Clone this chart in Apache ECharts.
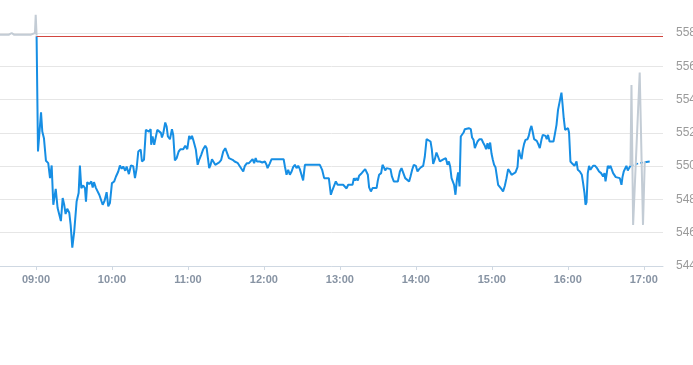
<!DOCTYPE html>
<html>
<head>
<meta charset="utf-8">
<script src="https://cdn.jsdelivr.net/npm/echarts@6/dist/echarts.min.js"></script>
<style>html,body{margin:0;padding:0;background:#fff}#c{width:693px;height:365px}</style>
</head>
<body>
<div id="c"></div>
<script>
// x values are minutes since midnight
var xTickMinutes = [540, 600, 660, 720, 780, 840, 900, 960, 1020];
var yTicks = [544, 546, 548, 550, 552, 554, 556, 558];
var prevClose = 557.82;

var preTimes  = [511.6, 518.7, 520.8, 522.6, 536.1, 537.6, 539.2, 539.8, 540.5];
var preValues = [557.9, 557.9, 558.0, 557.9, 557.9, 557.95, 558.0, 559.1, 557.85];

var mainTimes = [540.5,541.6,544.0,545.0,546.3,547.9,549.7,551.1,552.4,553.7,555.6,557.1,558.4,559.7,561.1,562.3,563.4,564.7,566.3,567.4,568.7,570.2,572.1,573.7,574.7,575.8,577.3,578.7,579.5,580.5,582.1,583.7,584.8,585.8,587.4,588.7,590.0,591.3,592.7,594.2,595.8,597.1,598.4,600.0,601.8,603.2,605.0,606.3,607.7,608.9,610.5,611.6,613.4,615.0,616.8,618.2,619.5,620.8,621.6,622.7,623.7,625.3,626.8,627.9,629.2,630.6,631.0,632.1,633.4,634.7,635.8,637.3,638.7,639.5,640.5,642.1,643.2,644.2,645.8,647.4,648.4,649.7,651.1,652.7,654.2,656.3,657.9,659.5,661.0,662.1,663.2,664.2,665.3,666.3,667.7,668.9,670.5,672.1,673.7,674.8,675.8,676.8,677.9,679.0,680.0,681.6,683.1,684.7,686.3,687.9,689.5,691.0,692.4,693.7,695.3,696.9,699.2,701.1,702.4,703.7,705.0,706.6,708.2,709.7,711.1,712.3,713.5,714.5,716.8,718.7,720.8,722.1,722.9,724.5,726.1,735.6,736.6,737.9,739.2,740.5,741.9,743.1,744.5,745.8,747.1,748.4,749.8,751.0,752.4,764.2,766.0,767.6,771.3,772.9,774.2,775.5,776.8,778.2,782.6,784.0,785.3,786.6,790.0,791.1,792.1,793.2,794.2,795.2,796.8,798.4,800.0,801.1,802.1,803.1,804.5,805.8,809.0,810.0,811.0,812.6,813.7,814.7,815.8,816.9,820.0,821.1,822.6,825.8,827.4,828.7,830.0,831.6,833.1,834.7,835.8,837.1,838.4,840.0,841.3,842.6,844.2,845.8,847.1,848.5,850.0,851.6,852.6,853.7,855.0,856.3,857.6,859.0,860.5,862.1,863.7,865.0,866.1,867.1,868.2,869.2,870.2,871.3,872.4,873.4,874.5,875.5,876.6,877.7,878.7,880.0,881.8,883.4,884.4,885.6,886.6,887.6,888.7,890.3,891.9,893.1,894.5,895.5,896.6,897.6,898.7,899.8,900.8,901.8,902.9,904.0,905.0,906.3,907.7,908.9,910.3,911.6,912.9,914.2,915.6,917.1,918.7,920.3,921.3,922.3,923.5,924.5,925.5,926.6,928.2,929.2,930.2,931.3,932.4,933.4,934.5,935.5,936.6,937.9,939.2,940.3,941.3,942.4,943.4,944.4,945.6,948.7,949.7,951.1,952.3,953.7,955.0,955.8,956.8,957.9,959.0,960.2,961.0,962.1,963.7,965.3,966.9,967.9,969.5,971.1,972.1,973.2,974.0,974.8,975.8,976.8,977.9,979.0,980.0,981.6,983.1,984.7,986.3,987.9,989.0,989.8,990.6,991.6,992.6,993.7,994.7,995.8,996.9,997.9,1001.1,1002.4,1003.2,1004.2,1005.2,1006.3,1007.4,1008.4,1009.5];
var mainValues = [557.8,550.88,553.24,552.08,551.68,550.32,550.18,549.28,550.04,547.68,548.64,547.48,547.5,546.7,548.08,547.68,547.12,547.44,547.2,546.47,545.1,546.07,547.87,548.38,550.04,548.68,548.84,548.68,547.87,549.04,548.92,549.08,548.72,549.04,548.68,548.56,548.28,548.18,547.68,547.92,548.44,547.58,547.78,548.98,549.08,549.38,549.68,550.04,549.84,549.98,549.72,549.98,549.52,550.04,550.0,549.28,549.86,550.88,550.78,551.0,550.28,550.38,552.18,552.22,552.08,552.22,551.28,551.78,551.28,551.34,552.18,552.22,552.0,551.72,551.96,552.62,552.38,551.78,551.62,552.22,551.88,550.34,550.48,550.88,551.02,551.02,551.22,551.02,551.82,551.62,551.82,551.58,551.62,550.98,550.08,550.38,550.68,551.02,551.22,551.08,550.48,549.88,550.08,550.42,550.32,550.08,550.08,550.22,550.38,550.88,551.08,551.08,550.48,550.38,550.38,550.28,550.2,549.98,549.88,549.68,550.02,550.18,550.18,550.28,550.42,550.18,550.48,550.28,550.28,550.22,550.28,550.08,549.88,550.14,550.42,550.42,549.98,549.48,549.78,549.48,549.68,549.94,550.08,549.88,550.02,549.82,549.78,549.14,550.08,550.08,549.78,549.28,549.28,548.28,548.58,548.68,549.08,548.88,548.88,548.78,548.66,548.88,548.88,549.28,549.14,549.28,549.14,549.42,549.54,549.68,549.82,549.78,549.48,548.72,548.48,548.68,548.68,549.14,549.48,549.58,550.08,549.94,549.74,549.88,549.82,549.38,549.08,549.08,549.68,549.88,549.78,549.28,549.22,549.08,549.38,549.78,550.08,550.02,549.68,549.82,549.94,550.02,550.58,551.62,551.62,551.48,551.02,550.14,550.42,550.82,550.82,550.28,550.38,550.42,550.48,550.08,550.28,549.98,549.28,549.18,548.88,548.28,549.18,549.62,548.78,551.78,551.88,552.02,552.22,552.28,552.28,552.22,551.72,551.58,551.08,551.28,551.48,551.62,551.62,551.42,551.22,551.02,551.38,551.02,551.42,550.74,550.38,550.08,549.94,549.38,548.88,548.82,548.62,548.48,548.82,549.28,549.82,549.68,549.48,549.58,549.62,549.94,550.98,550.68,550.42,550.98,551.34,551.58,551.62,551.82,552.18,552.42,552.02,551.62,551.72,551.52,551.34,551.08,551.58,551.88,551.78,551.82,551.62,551.88,551.48,551.48,551.88,552.48,553.38,553.48,554.42,553.78,552.88,552.18,552.08,552.28,552.02,550.28,550.14,550.02,550.28,549.78,549.68,549.48,548.98,548.38,547.68,547.82,549.58,550.02,549.78,549.82,550.02,550.02,549.88,549.68,549.58,549.38,549.58,549.08,549.48,550.02,549.88,550.02,549.94,549.58,549.68,549.34,549.28,548.88,549.34,549.68,549.74,550.02,549.74,549.88,550.02];

var extTimes  = [1009.5, 1016.8, 1020.8];
var extValues = [550.02, 550.18, 550.24];
var tailTimes  = [1020.8, 1024.7];
var tailValues = [550.24, 550.28];

var postTimes  = [1009.5, 1010.3, 1011.6, 1016.8, 1019.4, 1020.8];
var postValues = [550.02, 554.88, 546.47, 555.62, 546.47, 550.28];

function pairs(t, v) { return t.map(function (x, i) { return [x, v[i]]; }); }
function hhmm(m) {
  var h = Math.floor(m / 60), mm = Math.round(m - h * 60);
  return (h < 10 ? '0' : '') + h + ':' + (mm < 10 ? '0' : '') + mm;
}

var chart = echarts.init(document.getElementById('c'), null, { renderer: 'canvas' });
chart.setOption({
  animation: false,
  backgroundColor: '#fff',
  grid: { left: 0, right: 30, top: 33, bottom: 99, containLabel: false, outerBoundsMode: 'none' },
  xAxis: {
    type: 'value',
    min: 511.6,
    max: 1035.2,
    splitLine: { show: false },
    axisLine: { show: true, lineStyle: { color: '#cfd8e2', width: 1 } },
    axisTick: { show: true, length: 4, customValues: xTickMinutes, lineStyle: { color: '#cfd8e2' } },
    axisLabel: {
      customValues: xTickMinutes,
      formatter: function (v) { return hhmm(v); },
      color: '#8793a3', fontSize: 11, fontWeight: 'bold', margin: 8,
      fontFamily: 'Liberation Sans, Arial, sans-serif'
    }
  },
  yAxis: {
    type: 'value',
    position: 'right',
    min: yTicks[0],
    max: yTicks[yTicks.length - 1],
    interval: 2,
    axisLine: { show: false },
    axisTick: { show: false },
    splitLine: { show: true, lineStyle: { color: '#e6e6e6', width: 1 } },
    axisLabel: { color: '#9a9a9a', fontSize: 12, margin: 13, fontFamily: 'Liberation Sans, Arial, sans-serif' }
  },
  series: [
    {
      type: 'line', name: 'pre', data: pairs(preTimes, preValues), showSymbol: false, clip: false,
      lineStyle: { color: '#c3ccd5', width: 2 }, z: 3
    },
    {
      type: 'line', name: 'main', data: pairs(mainTimes, mainValues), showSymbol: false, clip: false,
      lineStyle: { color: '#168ee4', width: 2 }, z: 4,
      markLine: {
        silent: true, symbol: 'none', label: { show: false },
        lineStyle: { color: '#d2463f', width: 1, type: 'solid' },
        data: [[{ coord: [540.5, prevClose] }, { coord: [1035.2, prevClose] }]]
      }
    },
    {
      type: 'line', name: 'ext', data: pairs(extTimes, extValues), showSymbol: false, clip: false,
      lineStyle: { color: '#168ee4', width: 1.5, type: [3, 2] }, z: 4
    },
    {
      type: 'line', name: 'tail', data: pairs(tailTimes, tailValues), showSymbol: false, clip: false,
      lineStyle: { color: '#168ee4', width: 2 }, z: 4
    },
    {
      type: 'line', name: 'post', data: pairs(postTimes, postValues), showSymbol: false, clip: false,
      lineStyle: { color: '#c3ccd5', width: 2 }, z: 5
    }
  ]
});
</script>
</body>
</html>
